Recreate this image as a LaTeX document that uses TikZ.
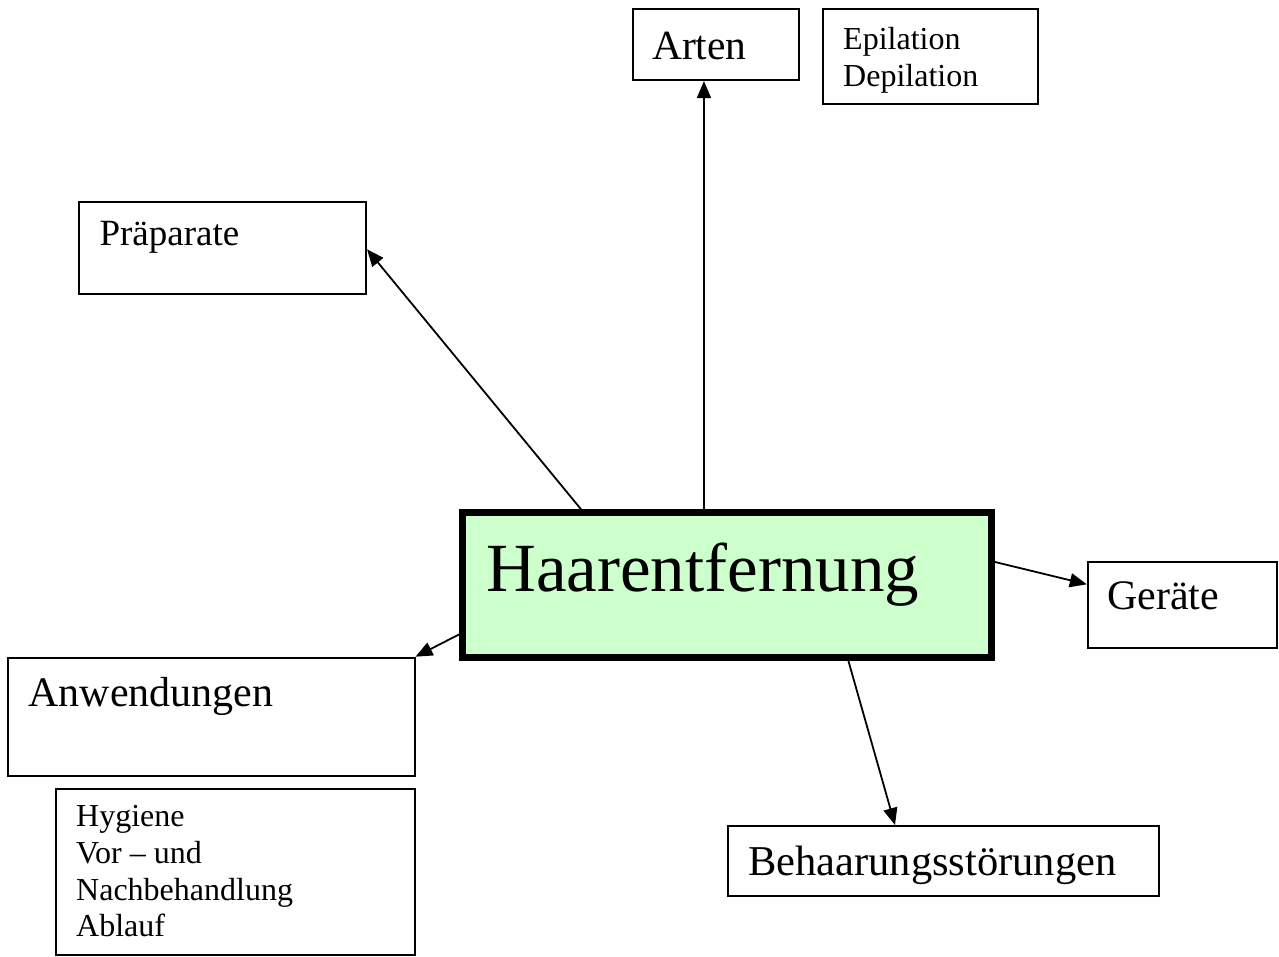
\documentclass[tikz,border=0pt]{standalone}
\usepackage{fontspec}
\setmainfont{Liberation Serif}
\usetikzlibrary{arrows.meta,calc}
\definecolor{haargreen}{HTML}{CCFFCC}
\begin{document}
\begin{tikzpicture}[x=1pt,y=-1pt,
  box/.style={draw=black,line width=2pt,rectangle,inner sep=0pt},
  mainbox/.style={draw=black,line width=7pt,rectangle,inner sep=0pt,fill=haargreen},
  lbl/.style={inner sep=0pt,anchor=base west,align=left},
  conn/.style={line width=1.8pt,-{Triangle[length=17pt,width=14pt]}}]
\useasboundingbox (0,0) rectangle (1279,956);
\fill[white] (0,0) rectangle (1279,956);

% boxes
\node[box,minimum width=166.3pt,minimum height=70.7pt] (arten) at (715.8,44.7) {};
\node[box,minimum width=215pt,minimum height=94.7pt] (epil) at (930.5,56.7) {};
\node[box,minimum width=286.7pt,minimum height=92pt] (prap) at (222.7,248) {};
\node[mainbox,minimum width=528.7pt,minimum height=144.4pt] (haar) at (727.2,585) {};
\node[box,minimum width=189pt,minimum height=86pt] (geraete) at (1182.3,605) {};
\node[box,minimum width=406.8pt,minimum height=118pt] (anw) at (211.1,716.7) {};
\node[box,minimum width=358.5pt,minimum height=165.2pt] (hyg) at (235.25,871.9) {};
\node[box,minimum width=430.7pt,minimum height=70.3pt] (behaar) at (943.65,861.15) {};

% texts
\node[lbl,font=\fontsize{41.5}{47}\selectfont] (t-arten) at (652,59.3) {Arten};
\node[lbl,font=\fontsize{32}{37}\selectfont] (t-epil) at (843,86) {Epilation\\Depilation};
\node[lbl,font=\fontsize{37}{42}\selectfont] (t-prap) at (99.3,245) {Präparate};
\node[lbl,font=\fontsize{69}{79}\selectfont] (t-haar) at (486,591.7) {Haarentfernung};
\node[lbl,font=\fontsize{42}{48}\selectfont] (t-geraete) at (1107,609.5) {Geräte};
\node[lbl,font=\fontsize{42}{48}\selectfont] (t-anw) at (28.3,706.7) {Anwendungen};
\node[lbl,font=\fontsize{32}{36.7}\selectfont] (t-hyg) at (76,936.7) {Hygiene\\Vor – und\\Nachbehandlung\\Ablauf};
\node[lbl,font=\fontsize{42.5}{48}\selectfont] (t-behaar) at (748,875) {Behaarungsstörungen};

% connectors
\draw[conn] ($(haar.north west)+(121.7,0)$) -- ($(prap.north east)+(0,48.3)$);
\draw[conn] ($(haar.north west)+(244.7,0)$) -- ($(arten.south west)+(72.3,0)$);
\draw[conn] ($(haar.north east)+(0,52.7)$) -- ($(geraete.north west)+(0,23.3)$);
\draw[conn] ($(haar.south west)+(0,-26.4)$) -- (anw.north east);
\draw[conn] ($(haar.south west)+(389,0)$) -- ($(behaar.north west)+(167.7,0)$);
\end{tikzpicture}
\end{document}
